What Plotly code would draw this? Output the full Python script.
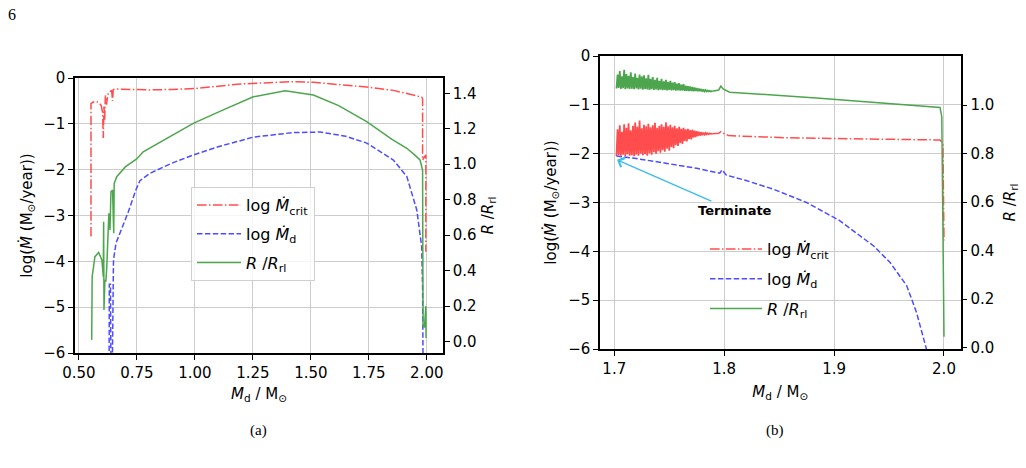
import plotly.graph_objects as go

# ---------------- Panel (a) data ----------------
a_crit_x = [0.552, 0.552, 0.560, 0.572, 0.585, 0.596, 0.602, 0.605, 0.608, 0.611, 0.614, 0.619, 0.623,
            0.627, 0.634, 0.641, 0.645, 0.648, 0.655, 0.70, 0.80, 0.90, 1.00, 1.195, 1.30, 1.425, 1.511,
            1.626, 1.741, 1.856, 1.942, 1.978, 1.982, 1.982, 1.996, 1.996]
a_crit_y = [-3.46, -0.56, -0.53, -0.51, -0.53, -0.60, -0.75, -1.31, -0.62, -0.91, -0.38, -0.58, -0.42,
            -0.33, -0.30, -0.27, -0.50, -0.25, -0.24, -0.25, -0.26, -0.25, -0.23, -0.13, -0.10, -0.08, -0.095,
            -0.146, -0.197, -0.27, -0.365, -0.416, -0.45, -1.79, -1.68, -3.79]

a_md_x = [0.630, 0.631, 0.636, 0.638, 0.644, 0.646, 0.649, 0.660, 0.677, 0.713, 0.745, 0.763, 0.806,
          0.90, 0.993, 1.10, 1.252, 1.425, 1.54, 1.65, 1.741, 1.856, 1.914, 1.957, 1.978, 1.982, 1.984]
a_md_y = [-6.3, -4.5, -4.5, -6.3, -6.3, -4.5, -3.97, -3.6, -3.39, -2.92, -2.45, -2.24, -2.08,
          -1.86, -1.68, -1.50, -1.29, -1.19, -1.18, -1.27, -1.42, -1.79, -2.15, -2.88, -3.68, -4.6, -6.3]

a_r_x = [0.555, 0.557, 0.569, 0.585, 0.599, 0.605, 0.6065, 0.608, 0.612, 0.616, 0.620, 0.625, 0.629,
         0.634, 0.638, 0.645, 0.650, 0.652, 0.663, 0.70, 0.749, 0.777, 0.88, 0.993, 1.12, 1.252, 1.389,
         1.511, 1.62, 1.741, 1.85, 1.914, 1.95, 1.971, 1.982, 1.983, 1.984, 1.990, 1.996, 1.997]
a_r_y = [0.01, 0.366, 0.479, 0.503, 0.46, 0.366, 0.676, 0.179, 0.348, 0.338, 0.42, 0.55, 0.723,
         0.629, 0.845, 0.855, 0.611, 0.892, 0.930, 0.985, 1.030, 1.07, 1.146, 1.23, 1.305, 1.38, 1.414,
         1.39, 1.33, 1.24, 1.14, 1.09, 1.05, 1.024, 0.967, 0.60, 0.09, 0.08, 0.20, 0.02]

# ---------------- Panel (b) data ----------------
b_noise_x = [1.702, 1.703, 1.704, 1.705, 1.706, 1.707, 1.708, 1.709, 1.710, 1.711,
             1.712, 1.713, 1.714, 1.715, 1.716, 1.717, 1.718, 1.719, 1.720, 1.721,
             1.722, 1.723, 1.724, 1.725, 1.726, 1.727, 1.728, 1.729, 1.730, 1.731,
             1.732, 1.733, 1.734, 1.735, 1.736, 1.737, 1.738, 1.739, 1.740, 1.741,
             1.742, 1.743, 1.744, 1.745, 1.746, 1.747, 1.748, 1.749, 1.750, 1.751,
             1.752, 1.753, 1.754, 1.755, 1.756, 1.757, 1.758, 1.759, 1.760, 1.761,
             1.762, 1.763, 1.764, 1.765, 1.766, 1.767, 1.768, 1.769, 1.770, 1.771,
             1.772, 1.773, 1.774, 1.775, 1.776, 1.777, 1.778, 1.779, 1.780, 1.781,
             1.782, 1.783, 1.784, 1.785, 1.786, 1.787, 1.788, 1.789]
b_crit_noise = [-2.05, -1.50, -2.03, -1.42, -2.04, -1.55, -2.02, -1.40, -2.05, -1.47,
                -2.01, -1.38, -2.04, -1.52, -2.03, -1.43, -2.05, -1.36, -2.02, -1.45,
                -2.04, -1.32, -2.00, -1.48, -2.03, -1.41, -2.01, -1.44, -2.04, -1.39,
                -1.99, -1.46, -2.02, -1.42, -1.97, -1.37, -2.00, -1.47, -1.95, -1.43,
                -1.98, -1.40, -1.93, -1.45, -1.96, -1.36, -1.90, -1.44, -1.94, -1.41,
                -1.86, -1.46, -1.89, -1.43, -1.82, -1.48, -1.84, -1.45, -1.78, -1.49,
                -1.80, -1.47, -1.74, -1.50, -1.75, -1.49, -1.70, -1.52, -1.71, -1.51,
                -1.67, -1.53, -1.66, -1.54, -1.64, -1.55, -1.63, -1.56, -1.62, -1.57,
                -1.61, -1.575, -1.605, -1.58, -1.60, -1.585, -1.595, -1.59]
b_r_noise = [1.068, 1.125, 1.070, 1.140, 1.066, 1.118, 1.069, 1.145, 1.065, 1.128,
             1.068, 1.120, 1.066, 1.135, 1.067, 1.115, 1.065, 1.130, 1.068, 1.112,
             1.064, 1.126, 1.067, 1.118, 1.063, 1.122, 1.066, 1.110, 1.064, 1.124,
             1.062, 1.108, 1.065, 1.115, 1.062, 1.104, 1.064, 1.112, 1.061, 1.100,
             1.063, 1.108, 1.061, 1.098, 1.062, 1.104, 1.060, 1.095, 1.062, 1.100,
             1.060, 1.092, 1.061, 1.094, 1.059, 1.088, 1.060, 1.090, 1.059, 1.084,
             1.060, 1.086, 1.058, 1.080, 1.059, 1.078, 1.058, 1.076, 1.058, 1.074,
             1.057, 1.072, 1.058, 1.070, 1.057, 1.068, 1.057, 1.066, 1.056, 1.064,
             1.056, 1.062, 1.056, 1.060, 1.056, 1.059, 1.056, 1.057]

b_crit_x = [1.789, 1.795, 1.797, 1.799, 1.804, 1.85, 1.90, 1.95, 1.9965, 1.999, 2.000]
b_crit_y = [-1.59, -1.58, -1.55, -1.58, -1.63, -1.67, -1.69, -1.71, -1.72, -1.80, -3.78]

b_r_x = [1.789, 1.795, 1.797, 1.799, 1.805, 1.887, 1.9964, 1.998, 1.999, 2.000]
b_r_y = [1.057, 1.062, 1.078, 1.066, 1.053, 1.028, 0.990, 0.950, 0.500, 0.045]

b_md_x = [1.702, 1.720, 1.748, 1.775, 1.796, 1.798, 1.802, 1.820, 1.845, 1.875, 1.905, 1.936, 1.951,
          1.966, 1.975, 1.984, 1.986]
b_md_y = [-2.05, -2.10, -2.20, -2.30, -2.40, -2.33, -2.44, -2.55, -2.73, -3.00, -3.37, -3.89, -4.23,
          -4.70, -5.25, -6.00, -6.30]

# ---------------- Ticks / labels ----------------
a_xticks = [0.50, 0.75, 1.00, 1.25, 1.50, 1.75, 2.00]
a_xticklabels = ["0.50", "0.75", "1.00", "1.25", "1.50", "1.75", "2.00"]
b_xticks = [1.7, 1.8, 1.9, 2.0]
b_xticklabels = ["1.7", "1.8", "1.9", "2.0"]
left_ticks = [0, -1, -2, -3, -4, -5, -6]
left_ticklabels = ["0", "\u22121", "\u22122", "\u22123", "\u22124", "\u22125", "\u22126"]
a_rticks = [0.0, 0.2, 0.4, 0.6, 0.8, 1.0, 1.2, 1.4]
a_rticklabels = ["0.0", "0.2", "0.4", "0.6", "0.8", "1.0", "1.2", "1.4"]
b_rticks = [0.0, 0.2, 0.4, 0.6, 0.8, 1.0]
b_rticklabels = ["0.0", "0.2", "0.4", "0.6", "0.8", "1.0"]

RED = "#ff4d4d"
BLUE = "#4d4dff"
GREEN = "#4da64d"
DASHDOT = "9.6px,2.4px,1.5px,2.4px"
DASHED = "5.5px,2.4px"

name_crit = "log <i>\u1E40</i><sub>crit</sub>"
name_md = "log <i>\u1E40</i><sub>d</sub>"
name_r = "<i>R</i> /<i>R</i><sub>rl</sub>"

fig = go.Figure()

# Panel (a)
fig.add_trace(go.Scatter(x=a_crit_x, y=a_crit_y, mode="lines", name=name_crit, legendgroup="a1",
                         line=dict(color=RED, width=1.5, dash=DASHDOT), xaxis="x", yaxis="y", legend="legend"))
fig.add_trace(go.Scatter(x=a_md_x, y=a_md_y, mode="lines", name=name_md, legendgroup="a2",
                         line=dict(color=BLUE, width=1.5, dash=DASHED), xaxis="x", yaxis="y", legend="legend"))
fig.add_trace(go.Scatter(x=a_r_x, y=a_r_y, mode="lines", name=name_r, legendgroup="a3",
                         line=dict(color=GREEN, width=1.5), xaxis="x", yaxis="y2", legend="legend"))

# Panel (b)
fig.add_trace(go.Scatter(x=b_noise_x, y=b_crit_noise, mode="lines", showlegend=False,
                         line=dict(color=RED, width=1.8), xaxis="x2", yaxis="y3"))
fig.add_trace(go.Scatter(x=b_crit_x, y=b_crit_y, mode="lines", name=name_crit, legendgroup="b1",
                         line=dict(color=RED, width=1.5, dash=DASHDOT), xaxis="x2", yaxis="y3", legend="legend2"))
fig.add_trace(go.Scatter(x=b_md_x, y=b_md_y, mode="lines", name=name_md, legendgroup="b2",
                         line=dict(color=BLUE, width=1.5, dash=DASHED), xaxis="x2", yaxis="y3", legend="legend2"))
fig.add_trace(go.Scatter(x=b_noise_x, y=b_r_noise, mode="lines", showlegend=False,
                         line=dict(color=GREEN, width=1.8), xaxis="x2", yaxis="y4"))
fig.add_trace(go.Scatter(x=b_r_x, y=b_r_y, mode="lines", name=name_r, legendgroup="b3",
                         line=dict(color=GREEN, width=1.5), xaxis="x2", yaxis="y4", legend="legend2"))

FONT = "DejaVu Sans, Arial, sans-serif"
TF = dict(family=FONT, size=15, color="black")
LF = dict(family=FONT, size=16, color="black")
GRID = "#cccccc"

common_x = dict(showline=True, linecolor="black", linewidth=1.5, mirror=True, ticks="outside",
                ticklen=5, tickwidth=1.2, tickcolor="black", showgrid=True, gridcolor=GRID, gridwidth=1,
                zeroline=False, tickfont=TF, automargin=False)
common_left = dict(showline=True, linecolor="black", linewidth=1.5, ticks="outside", ticklen=5,
                   tickwidth=1.2, tickcolor="black", showgrid=True, gridcolor=GRID, gridwidth=1,
                   zeroline=False, tickfont=TF, range=[-6, 0], tickvals=left_ticks,
                   ticktext=left_ticklabels, automargin=False)
common_right = dict(showline=True, linecolor="black", linewidth=1.5, ticks="outside", ticklen=5,
                    tickwidth=1.2, tickcolor="black", showgrid=False, zeroline=False, tickfont=TF,
                    side="right", automargin=False)

xtitle = "<i>M</i><sub>d</sub> / M<sub>\u2299</sub>"
ytitle = "log(<i>\u1E40</i> (M<sub>\u2299</sub>/year))"

W, H = 1026, 468
fig.update_layout(
    width=W, height=H, margin=dict(l=0, r=0, t=0, b=0, autoexpand=False),
    paper_bgcolor="white", plot_bgcolor="white",
    font=dict(family=FONT, size=15, color="black"),
    xaxis=dict(common_x, domain=[75 / W, 443 / W], range=[0.483, 2.070], anchor="y",
               tickvals=a_xticks, ticktext=a_xticklabels, title=dict(text=xtitle, font=TF, standoff=8)),
    yaxis=dict(common_left, domain=[1 - 353 / H, 1 - 78 / H], anchor="x",
               title=dict(text=ytitle, font=TF, standoff=7)),
    yaxis2=dict(common_right, overlaying="y", anchor="x", range=[-0.064, 1.486], tickvals=a_rticks,
                ticktext=a_rticklabels, title=dict(text=name_r, font=TF, standoff=7)),
    xaxis2=dict(common_x, domain=[600 / W, 960.7 / W], range=[1.687, 2.0152], anchor="y3",
                tickvals=b_xticks, ticktext=b_xticklabels, title=dict(text=xtitle, font=TF, standoff=10)),
    yaxis3=dict(common_left, domain=[1 - 349 / H, 1 - 56 / H], anchor="x2",
                title=dict(text=ytitle, font=TF, standoff=8)),
    yaxis4=dict(common_right, overlaying="y3", anchor="x2", range=[-0.005, 1.202], tickvals=b_rticks,
                ticktext=b_rticklabels, title=dict(text=name_r, font=TF, standoff=11)),
    legend=dict(x=191 / W, y=1 - 187 / H, xanchor="left", yanchor="top", tracegroupgap=5, itemwidth=44,
                bgcolor="rgba(255,255,255,0.8)", bordercolor="#d0d0d0", borderwidth=1, font=LF),
    legend2=dict(x=705 / W, y=1 - 232 / H, xanchor="left", yanchor="top", tracegroupgap=6, itemwidth=52,
                 bgcolor="rgba(0,0,0,0)", borderwidth=0, font=LF),
    showlegend=True,
)

# Annotation in panel (b)
fig.add_annotation(x=1.7025, y=-2.127, ax=1.7897, ay=-2.986, xref="x2", yref="y3", axref="x2", ayref="y3",
                   text="", showarrow=True, arrowhead=4, arrowsize=1.3, arrowwidth=1.5, arrowcolor="#3dbdee")
fig.add_annotation(x=1.81, y=-3.17, xref="x2", yref="y3", text="<b>Terminate</b>", showarrow=False,
                   xanchor="center", yanchor="middle", font=dict(family=FONT, size=13, color="black"))

SERIF = "Liberation Serif, DejaVu Serif, serif"
fig.add_annotation(x=12 / W, y=1 - 15 / H, xref="paper", yref="paper", text="6", showarrow=False,
                   xanchor="center", yanchor="middle", font=dict(family=SERIF, size=16, color="black"))
fig.add_annotation(x=258 / W, y=1 - 430 / H, xref="paper", yref="paper", text="(a)", showarrow=False,
                   xanchor="center", yanchor="middle", font=dict(family=SERIF, size=15, color="black"))
fig.add_annotation(x=775 / W, y=1 - 430 / H, xref="paper", yref="paper", text="(b)", showarrow=False,
                   xanchor="center", yanchor="middle", font=dict(family=SERIF, size=15, color="black"))

fig.write_html("out.html")
